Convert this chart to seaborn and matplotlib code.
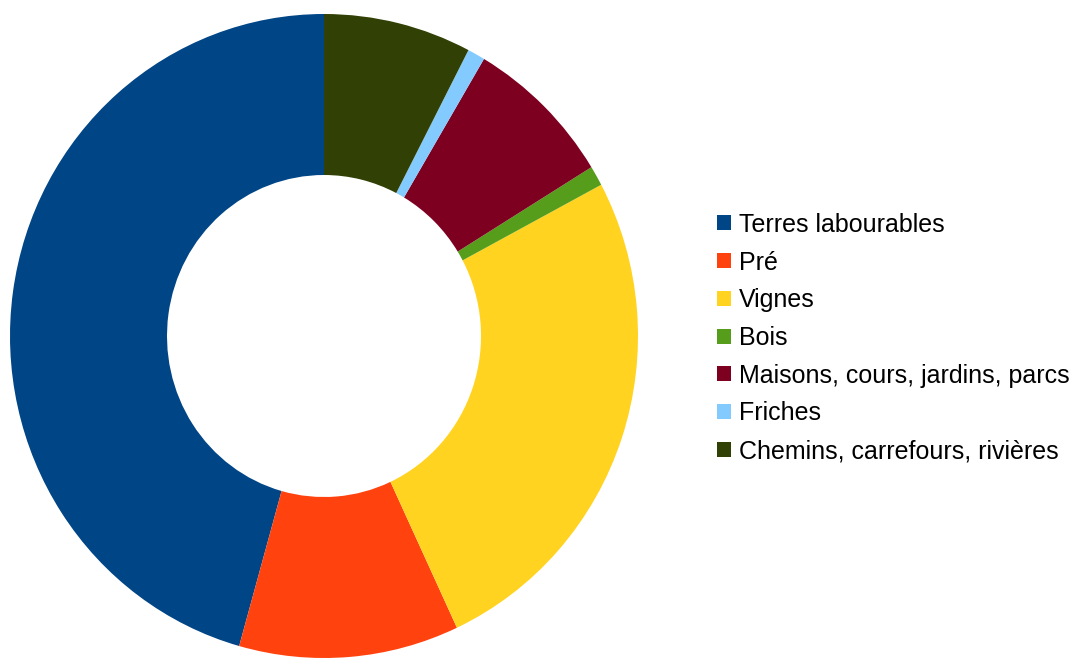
import seaborn as sns
import matplotlib.pyplot as plt
from matplotlib.patches import Patch

categories = ["Terres labourables", "Pré", "Vignes", "Bois",
              "Maisons, cours, jardins, parcs", "Friches",
              "Chemins, carrefours, rivières"]
values = [45.6, 11.3, 25.8, 1.0, 7.7, 0.9, 7.6]
colors = ["#004586", "#ff420e", "#ffd320", "#579d1c", "#7e0021", "#83caff", "#314004"]

sns.set_theme(style="white")
plt.rcParams['font.family'] = ['Liberation Sans', 'DejaVu Sans']

fig = plt.figure(figsize=(10.84, 6.59), dpi=100)
W, H = 1084, 659
cx, cy, rx, ry = 324, 336, 314, 322
ax = fig.add_axes([(cx - rx) / W, (H - cy - ry) / H, 2 * rx / W, 2 * ry / H])

palette = sns.color_palette(colors)
wedges, _ = ax.pie(values, colors=palette, startangle=90, counterclock=True,
                   radius=1, wedgeprops=dict(width=0.5, linewidth=0))
ax.set_xlim(-1, 1)
ax.set_ylim(-1, 1)
ax.set_aspect("auto")
ax.axis("off")

handles = [Patch(facecolor=c, edgecolor="none") for c in palette]
fig.legend(handles, categories, loc="center left",
           bbox_to_anchor=(717 / W, (H - 338) / H), frameon=False,
           borderaxespad=0, borderpad=0, labelcolor="black",
           fontsize=18, handlelength=0.54, handleheight=0.54,
           handletextpad=0.33, labelspacing=0.55)

fig.savefig("out.png", dpi=100)
